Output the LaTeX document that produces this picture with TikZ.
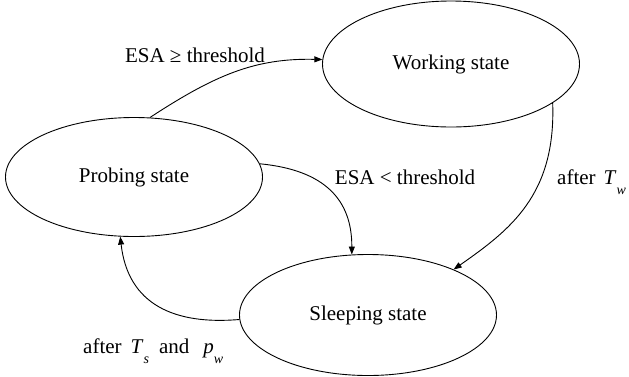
\documentclass[tikz,border=0pt]{standalone}
\usepackage{fontspec}
\setmainfont{Liberation Serif}
\usetikzlibrary{arrows.meta,shapes.geometric}
\newcommand{\subit}[2]{\textit{#1}\raisebox{-10pt}{\fontsize{14}{14}\selectfont\itshape #2}}

\begin{document}
\begin{tikzpicture}[x=1pt, y=-1pt,
  state/.style={ellipse, draw, line width=0.9pt, inner sep=0pt,
                minimum width=257pt, font=\fontsize{21}{25}\selectfont},
  lbl/.style={font=\fontsize{21}{25}\selectfont, inner sep=0pt},
  arr/.style={-{Triangle[length=8pt,width=6pt]}, line width=0.9pt}]
  \useasboundingbox (0,0) rectangle (629,376);
  \node[state, minimum height=126pt] (work) at (451,64) {Working state};
  \node[state, minimum height=119pt] (probe) at (134,177) {Probing state};
  \node[state, minimum height=121pt] (sleep) at (368,315) {Sleeping state};
  % transitions
  \draw[arr] (probe.75) .. controls (215,75) and (255,58) .. (work.178);
  \draw[arr] (probe.6) .. controls (325,170) and (352,200) .. (sleep.105);
  \draw[arr] (work.-21) .. controls (556,195) and (510,230) .. (sleep.28);
  \draw[arr] (sleep.182) .. controls (175,325) and (128,305) .. (probe.257);
  % labels
  \node[lbl, anchor=base] (ge) at (195,62) {ESA ≥ threshold};
  \node[lbl, anchor=base] (lt) at (405,184) {ESA < threshold};
  \node[lbl, anchor=base west] (tw) at (557,184) {after\hspace{8pt}\subit{T}{w}};
  \node[lbl, anchor=base west] (ts) at (83,353)
    {after\hspace{9pt}\subit{T}{s}\hspace{10pt}and\hspace{14pt}\subit{p}{w}};
\end{tikzpicture}
\end{document}
